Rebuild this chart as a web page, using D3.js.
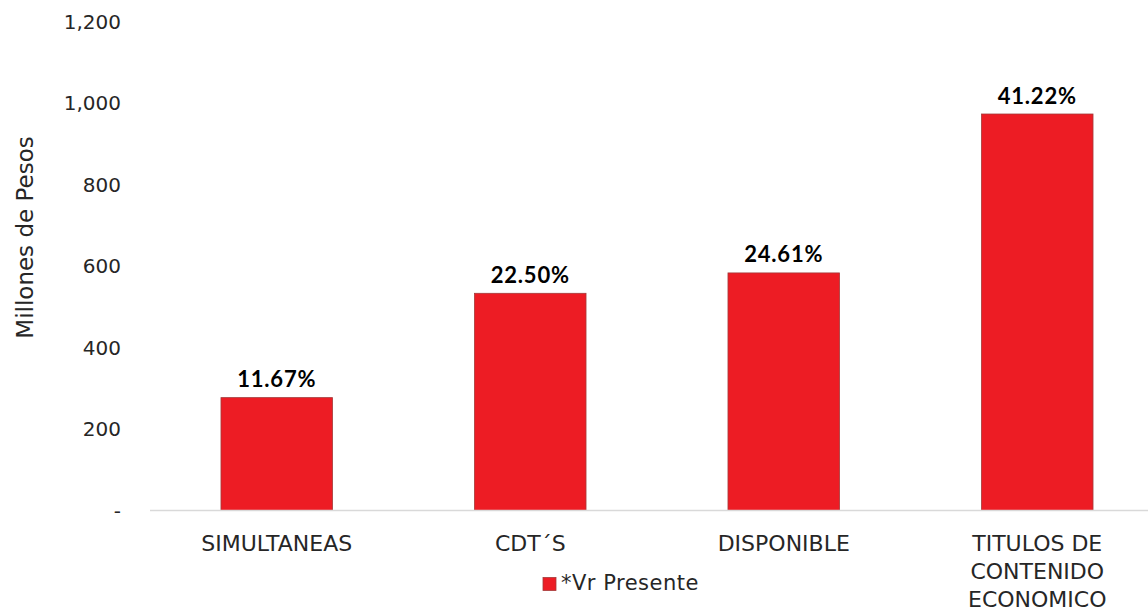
<!DOCTYPE html>
<head>
<meta charset="utf-8">
<script src="https://d3js.org/d3.v7.min.js"></script>
</head>
<body style="margin:0">
<style>
  * { font-family: "DejaVu Sans", sans-serif; }
</style>
<div id="viz"></div>
<script>
// chart values
var categories = ["SIMULTANEAS", "CDT´S", "DISPONIBLE", "TITULOS DE CONTENIDO ECONOMICO"];
var catLines = [["SIMULTANEAS"], ["CDT´S"], ["DISPONIBLE"], ["TITULOS DE", "CONTENIDO", "ECONOMICO"]];
var values = [277, 533, 583, 973];
var pctLabels = ["11.67%", "22.50%", "24.61%", "41.22%"];
var yTicks = [0, 200, 400, 600, 800, 1000, 1200];
var seriesName = "*Vr Presente";

var width = 1148, height = 612;
var svg = d3.select("#viz").append("svg")
    .attr("width", width)
    .attr("height", height);

var x = d3.scaleBand()
    .domain(categories)
    .range([150, 1164])
    .paddingInner(0.56)
    .paddingOuter(0.28);

var y = d3.scaleLinear()
    .domain([0, 1200])
    .range([510.5, 21.5]);

// y tick labels (no axis line)
svg.append("g")
  .selectAll("text")
  .data(yTicks)
  .join("text")
    .attr("x", 121)
    .attr("y", function(d) { return y(d); })
    .attr("dy", "0.36em")
    .attr("text-anchor", "end")
    .style("font-size", "20px")
    .style("fill", "#262626")
    .text(function(d) { return d === 0 ? "-" : d3.format(",")(d); });

// y title
svg.append("text")
    .attr("transform", "translate(33," + 237.5 + ") rotate(-90)")
    .attr("text-anchor", "middle")
    .style("font-size", "23px")
    .style("fill", "#262626")
    .text("Millones de Pesos");

// bars
svg.append("g")
  .selectAll("rect")
  .data(values)
  .join("rect")
    .attr("x", function(d, i) { return x(categories[i]); })
    .attr("width", x.bandwidth())
    .attr("y", function(d) { return y(d); })
    .attr("height", function(d) { return y(0) - y(d); })
    .attr("fill", "#ED1C24")
    .attr("stroke", "#a33a3a")
    .attr("stroke-width", 0.8);

// baseline
svg.append("line")
    .attr("x1", 150).attr("x2", width)
    .attr("y1", y(0)).attr("y2", y(0))
    .attr("stroke", "#d9d9d9")
    .attr("stroke-width", 1.5);

// percentage labels
svg.append("g")
  .selectAll("text")
  .data(values)
  .join("text")
    .attr("x", function(d, i) { return x(categories[i]) + x.bandwidth() / 2; })
    .attr("y", function(d) { return y(d) - 10.5; })
    .attr("text-anchor", "middle")
    .style("font-family", "Lato, sans-serif")
    .style("font-size", "22px")
    .style("font-weight", "bold")
    .style("letter-spacing", "0.8px")
    .style("fill", "#000")
    .text(function(d, i) { return pctLabels[i]; });

// category labels
var cat = svg.append("g")
  .selectAll("text")
  .data(categories)
  .join("text")
    .attr("x", function(d) { return x(d) + x.bandwidth() / 2; })
    .attr("y", 550.5)
    .attr("text-anchor", "middle")
    .style("font-size", "22px")
    .style("fill", "#262626");
cat.selectAll("tspan")
  .data(function(d, i) { return catLines[i]; })
  .join("tspan")
    .attr("x", function() { return d3.select(this.parentNode).attr("x"); })
    .attr("dy", function(d, j) { return j === 0 ? 0 : 28.4; })
    .text(function(d) { return d; });

// legend
svg.append("rect")
    .attr("x", 543).attr("y", 577.5)
    .attr("width", 13).attr("height", 13)
    .attr("fill", "#ED1C24")
    .attr("stroke", "#a33a3a")
    .attr("stroke-width", 0.8);
svg.append("text")
    .attr("x", 561).attr("y", 590)
    .style("font-size", "21px")
    .style("letter-spacing", "0.5px")
    .style("fill", "#262626")
    .text(seriesName);
</script>
</body>
